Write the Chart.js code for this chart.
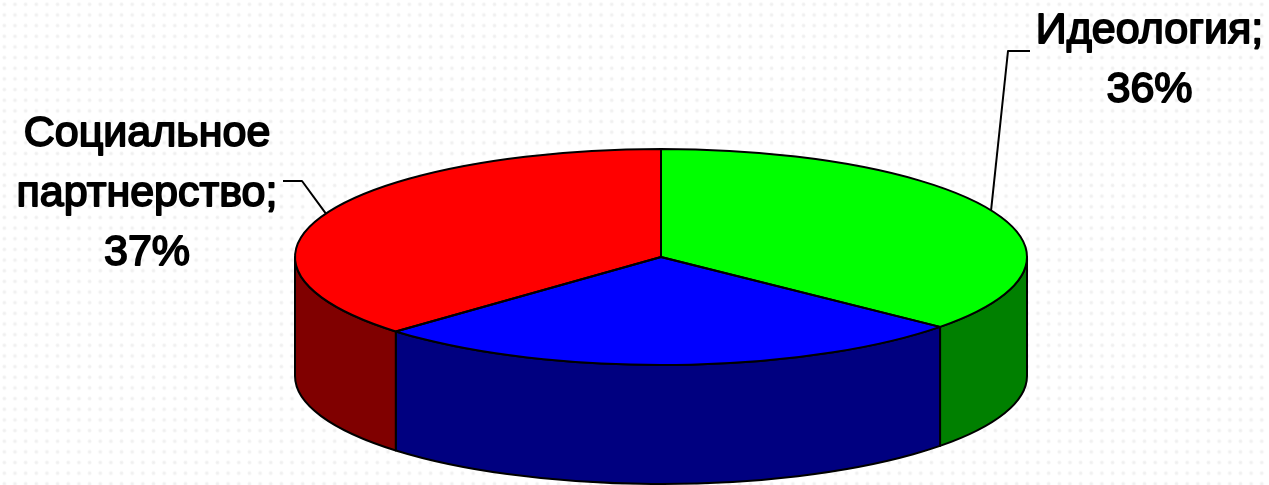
<!DOCTYPE html>
<html><head><meta charset="utf-8">
<style>
html,body{margin:0;padding:0;width:1269px;height:485px;overflow:hidden;
background-color:#fff;
background-image:radial-gradient(circle at center,#eeeeee 0,#f2f2f2 1.2px,rgba(255,255,255,0) 2.4px);
background-size:10.67px 10.67px;background-position:-1px -1px;}
#w{position:absolute;left:0;top:0;width:1269px;height:485px}
</style>
<script src="https://cdn.jsdelivr.net/npm/chart.js@4"></script>
</head><body><div id="w"><canvas id="c" width="1269" height="485"></canvas></div>
<script>
const categories = ['Идеология', 'Прочее', 'Социальное партнерство'];
const values = [36.2, 26.7, 37.1];
const topColors = ['#00ff00', '#0000ff', '#ff0000'];
const sideColors = ['#008000', '#000080', '#800000'];
const calloutLines = [['Идеология;', '36%'], null, ['Социальное', 'партнерство;', '37%']];

const view = {cx: 661, cy: 257, rx: 366, ry: 108, depth: 119};

function ellipsePath(ctx, cy, a, b, ccw) {
  ctx.ellipse(view.cx, cy, view.rx, view.ry, 0, a, b, !!ccw);
}
const pie3d = {
  id: 'pie3d',
  beforeDatasetsDraw(chart) {
    const ctx = chart.ctx, arcs = chart.getDatasetMeta(0).data;
    ctx.save();
    ctx.lineWidth = 2; ctx.strokeStyle = '#000'; ctx.lineJoin = 'round';
    arcs.forEach((arc, i) => {
      const a = Math.max(arc.startAngle, 0), b = Math.min(arc.endAngle, Math.PI);
      if (b <= a) return;
      ctx.beginPath();
      ellipsePath(ctx, view.cy, a, b, false);
      ellipsePath(ctx, view.cy + view.depth, b, a, true);
      ctx.closePath();
      ctx.fillStyle = sideColors[i];
      ctx.fill(); ctx.stroke();
    });
    ctx.restore();
    const p = arcs[0];
    ctx.save();
    ctx.translate(view.cx, view.cy);
    ctx.scale(view.rx / p.outerRadius, view.ry / p.outerRadius);
    ctx.translate(-p.x, -p.y);
  },
  afterDatasetsDraw(chart) {
    const ctx = chart.ctx, arcs = chart.getDatasetMeta(0).data;
    ctx.restore();
    ctx.save();
    ctx.lineWidth = 2; ctx.strokeStyle = '#000'; ctx.lineJoin = 'round';
    arcs.forEach(arc => {
      ctx.beginPath();
      ctx.moveTo(view.cx, view.cy);
      ellipsePath(ctx, view.cy, arc.startAngle, arc.endAngle, false);
      ctx.closePath();
      ctx.stroke();
    });
    // callout leaders
    ctx.lineWidth = 2;
    ctx.beginPath();
    const ang = [arcs[0].startAngle + 1.124, null, arcs[2].endAngle - 1.157];
    const ex0 = view.cx + view.rx * Math.cos(ang[0]), ey0 = view.cy + view.ry * Math.sin(ang[0]);
    ctx.moveTo(1030, 51); ctx.lineTo(1008, 51); ctx.lineTo(ex0, ey0);
    const ex2 = view.cx + view.rx * Math.cos(ang[2]), ey2 = view.cy + view.ry * Math.sin(ang[2]);
    ctx.moveTo(283, 181); ctx.lineTo(302, 181); ctx.lineTo(ex2, ey2);
    ctx.stroke();
    // callout text
    ctx.fillStyle = '#000';
    ctx.strokeStyle = '#000';
    ctx.lineWidth = 1.8;
    ctx.font = '43px "Liberation Sans", Arial, sans-serif';
    ctx.textAlign = 'center'; ctx.textBaseline = 'alphabetic';
    const anchors = [[1149.5, [43, 102]], null, [147, [146, 206, 265]]];
    calloutLines.forEach((lines, i) => {
      if (!lines) return;
      lines.forEach((t, k) => {
        ctx.fillText(t, anchors[i][0], anchors[i][1][k]);
        ctx.strokeText(t, anchors[i][0], anchors[i][1][k]);
      });
    });
    ctx.restore();
  }
};
new Chart(document.getElementById('c'), {
  type: 'pie',
  data: {labels: categories, datasets: [{data: values, backgroundColor: topColors, borderWidth: 0, clip: false}]},
  options: {
    responsive: false, animation: false,
    layout: {padding: 0},
    plugins: {legend: {display: false}, tooltip: {enabled: false}, title: {display: false}}
  },
  plugins: [pie3d]
});
</script></body></html>
